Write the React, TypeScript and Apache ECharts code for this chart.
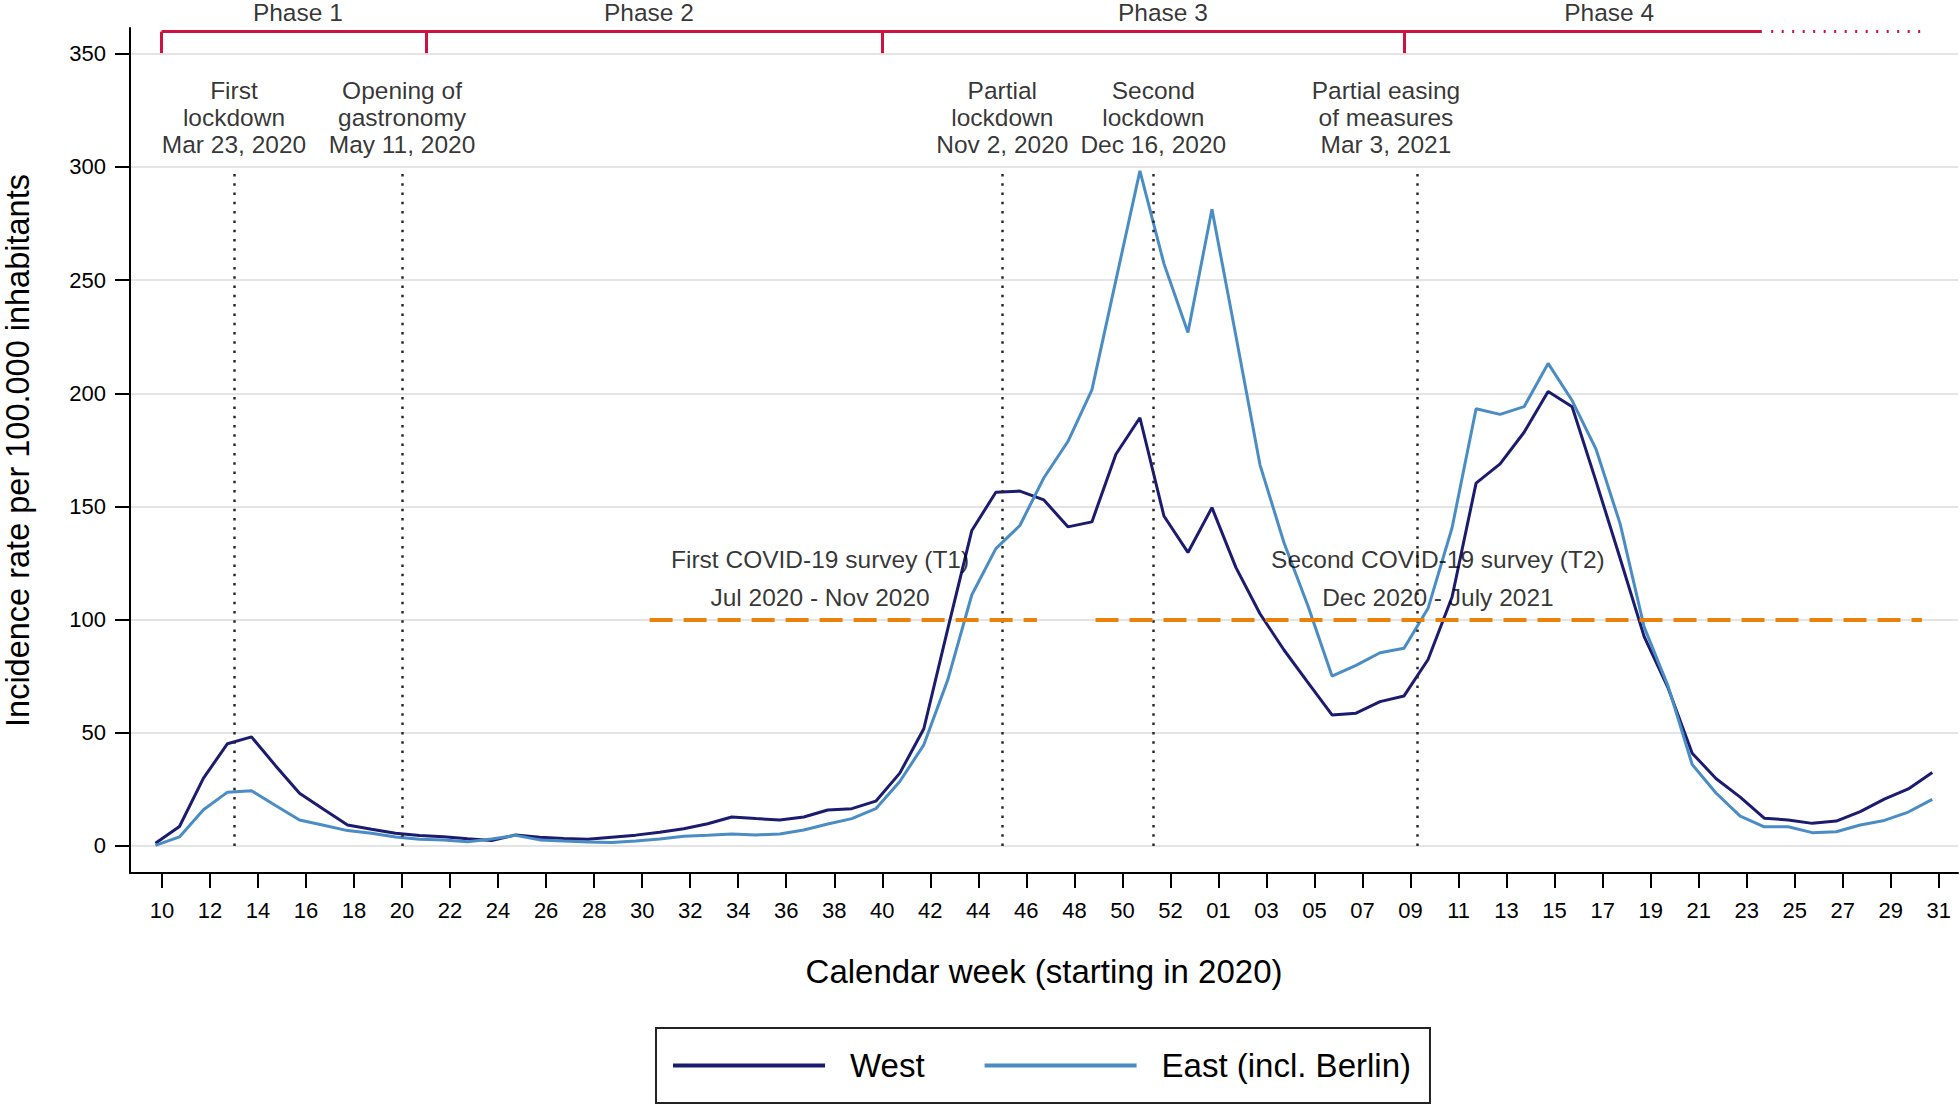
import React, { useEffect, useRef } from "react";
import * as echarts from "echarts";

// Calendar-week labels (2020 wk 10 .. 2020 wk 53, 2021 wk 01 .. wk 31)
const weekLabels: string[] = [
  "10", "11", "12", "13", "14", "15", "16", "17", "18", "19",
  "20", "21", "22", "23", "24", "25", "26", "27", "28", "29",
  "30", "31", "32", "33", "34", "35", "36", "37", "38", "39",
  "40", "41", "42", "43", "44", "45", "46", "47", "48", "49",
  "50", "51", "52", "53",
  "01", "02", "03", "04", "05", "06", "07", "08", "09", "10",
  "11", "12", "13", "14", "15", "16", "17", "18", "19", "20",
  "21", "22", "23", "24", "25", "26", "27", "28", "29", "30", "31",
];

// Incidence per 100.000 inhabitants, West
const westValues: number[] = [
  1.2, 8.6, 30, 45.2, 48.2, 35.5, 23.3, 16.2, 9.3, 7.4,
  5.6, 4.6, 4.1, 3.2, 2.4, 4.9, 3.9, 3.3, 3.0, 3.9,
  4.8, 6.1, 7.6, 9.8, 12.8, 12.1, 11.5, 12.8, 15.9, 16.5,
  19.8, 32.2, 51.8, 96, 139.4, 156.3, 156.8, 152.9, 141, 143.2,
  173.1, 189.2, 145.8, 129.7,
  149.5, 123, 102.6, 86.6, 72.2, 57.9, 58.7, 63.8, 66.3, 82.4,
  110, 160.3, 168.8, 182.8, 200.8, 194.1, 161, 127, 92.5, 69.7,
  41, 29.7, 21.6, 12.3, 11.5, 10, 11, 15.2, 20.7, 25.2, 32.5,
];

// Incidence per 100.000 inhabitants, East (incl. Berlin)
const eastValues: number[] = [
  0.3, 4.0, 16, 23.8, 24.4, 17.9, 11.5, 9.2, 6.8, 5.6,
  4.0, 3.0, 2.7, 1.9, 3.1, 4.7, 2.7, 2.2, 1.8, 1.5,
  2.2, 3.1, 4.3, 4.7, 5.3, 4.9, 5.3, 7.1, 9.7, 12.1,
  16.5, 28.5, 44.7, 73.5, 111, 131.4, 141.6, 162.7, 178.7, 201.5,
  250, 298.3, 257.3, 226.9,
  281.3, 225.2, 168.4, 134, 106, 75.1, 79.8, 85.4, 87.4, 105,
  140.6, 193.2, 190.7, 194.1, 213.2, 196.8, 175.2, 142.3, 96.7, 70.5,
  36, 23.3, 13.2, 8.5, 8.5, 5.9, 6.3, 9.3, 11.3, 15.0, 20.6,
];

const yTickValues: number[] = [0, 50, 100, 150, 200, 250, 300, 350];

// week ticks sit a little to the right of the weekly data points
const TICK_OFFSET = 0.27;

// events: week index (in weekLabels) + weekday offset (0 = Monday)
const events = [
  { text: "First\nlockdown\nMar 23, 2020", week: 3, day: 0, textShift: 0 },
  { text: "Opening of\ngastronomy\nMay 11, 2020", week: 10, day: 0, textShift: 0 },
  { text: "Partial\nlockdown\nNov 2, 2020", week: 35, day: 0, textShift: 0 },
  { text: "Second\nlockdown\nDec 16, 2020", week: 41, day: 2, textShift: 0 },
  { text: "Partial easing\nof measures\nMar 3, 2021", week: 52, day: 2, textShift: -1.31 },
];
const EVENT_LINE_TOP = 298.7;
const EVENT_TEXT_Y = 321.7;

// phases (x in data-index units)
const phaseBounds: number[] = [0.254, 11.28, 30.26, 52.02];
const phaseSolidEnd = 66.9;
const phaseDottedStart = 67.29;
const phaseDottedEnd = 73.57;
const PHASE_Y = 359.8;
const PHASE_TICK_Y = 350.3;
const phaseLabels = [
  { text: "Phase 1", x: 5.93 },
  { text: "Phase 2", x: 20.55 },
  { text: "Phase 3", x: 41.96 },
  { text: "Phase 4", x: 60.54 },
];
const PHASE_LABEL_Y = 368.4;

// surveys
const SURVEY_LEVEL = 100;
const surveys = [
  { title: "First COVID-19 survey (T1)", period: "Jul 2020 - Nov 2020", start: 20.58, end: 36.71, labelX: 27.68 },
  { title: "Second COVID-19 survey (T2)", period: "Dec 2020 - July 2021", start: 39.15, end: 73.57, labelX: 53.41 },
];
const SURVEY_TITLE_Y = 126.4;
const SURVEY_PERIOD_Y = 109.6;

const FONT = "'Liberation Sans', Arial, Helvetica, sans-serif";
const NAVY = "#1b1b6f";
const LIGHTBLUE = "#4a8cc4";
const ORANGE = "#e8820c";
const RED = "#cc1240";

export default function App() {
  const ref = useRef<HTMLDivElement | null>(null);

  useEffect(() => {
    if (!ref.current) return;
    const chart = echarts.init(ref.current, null, { renderer: "svg" });

    const xTickValues = weekLabels
      .map((_, i) => i)
      .filter((i) => i % 2 === 0)
      .map((i) => i + TICK_OFFSET);

    const westData = westValues.map((v, i) => [i, v]);
    const eastData = eastValues.map((v, i) => [i, v]);

    const markLines: any[] = [];
    // dotted event lines
    events.forEach((e) => {
      const x = e.week + TICK_OFFSET + e.day / 7;
      markLines.push([
        { coord: [x, 0], lineStyle: { color: "#2a2a2a", width: 2.5, type: [2.5, 6.8] } },
        { coord: [x, EVENT_LINE_TOP] },
      ]);
    });
    // survey lines
    surveys.forEach((s) => {
      markLines.push([
        { coord: [s.start, SURVEY_LEVEL], lineStyle: { color: ORANGE, width: 4, type: [23, 11] } },
        { coord: [s.end, SURVEY_LEVEL] },
      ]);
    });
    // phase bracket
    markLines.push([
      { coord: [phaseBounds[0], PHASE_Y], lineStyle: { color: RED, width: 3, type: "solid" } },
      { coord: [phaseSolidEnd, PHASE_Y] },
    ]);
    phaseBounds.forEach((b) => {
      markLines.push([
        { coord: [b, PHASE_TICK_Y], lineStyle: { color: RED, width: 3, type: "solid" } },
        { coord: [b, PHASE_Y] },
      ]);
    });
    markLines.push([
      { coord: [phaseDottedStart, PHASE_Y], lineStyle: { color: RED, width: 3, type: [2, 8.5] } },
      { coord: [phaseDottedEnd, PHASE_Y] },
    ]);

    const annotations: any[] = [];
    events.forEach((e) => {
      annotations.push({
        name: e.text,
        value: [e.week + TICK_OFFSET + e.day / 7 + e.textShift, EVENT_TEXT_Y],
      });
    });
    phaseLabels.forEach((p) => {
      annotations.push({ name: p.text, value: [p.x, PHASE_LABEL_Y], label: { lineHeight: 25 } });
    });
    surveys.forEach((s) => {
      annotations.push({ name: s.title, value: [s.labelX, SURVEY_TITLE_Y] });
      annotations.push({ name: s.period, value: [s.labelX, SURVEY_PERIOD_Y] });
    });

    const option: any = {
      animation: false,
      backgroundColor: "#ffffff",
      textStyle: { fontFamily: FONT },
      grid: { left: 130, right: 2, top: 28, bottom: 232, containLabel: false, outerBoundsMode: "none" },
      legend: {
        data: ["West", "East (incl. Berlin)"],
        left: 656,
        top: 1028,
        orient: "horizontal",
        selectedMode: false,
        icon: "rect",
        itemWidth: 152,
        itemHeight: 4,
        itemGap: 60,
        padding: [21, 19, 21, 17],
        borderColor: "#222",
        borderWidth: 2,
        textStyle: { fontSize: 33, color: "#000", fontFamily: FONT, padding: [0, 0, 0, 20] },
      },
      xAxis: {
        type: "value",
        min: -1.06,
        max: 75.07,
        name: "Calendar week (starting in 2020)",
        nameLocation: "middle",
        nameGap: 82,
        nameTextStyle: { fontSize: 33, color: "#000", fontFamily: FONT },
        axisLine: { show: true, onZero: false, lineStyle: { color: "#000", width: 2 } },
        axisTick: { show: true, length: 15, customValues: xTickValues, lineStyle: { color: "#000", width: 2 } },
        axisLabel: {
          show: true,
          customValues: xTickValues,
          margin: 26,
          fontSize: 22,
          color: "#000",
          fontFamily: FONT,
          formatter: (v: number) => weekLabels[Math.round(v - TICK_OFFSET)] ?? "",
        },
        splitLine: { show: false },
      },
      yAxis: {
        type: "value",
        min: -11.93,
        max: 361.4,
        name: "Incidence rate per 100.000 inhabitants",
        nameLocation: "middle",
        nameGap: 95,
        nameTextStyle: { fontSize: 32.5, lineHeight: 34, color: "#000", fontFamily: FONT },
        axisLine: { show: true, onZero: false, lineStyle: { color: "#000", width: 2 } },
        axisTick: { show: true, length: 15, customValues: yTickValues, lineStyle: { color: "#000", width: 2 } },
        axisLabel: { show: true, customValues: yTickValues, margin: 24, fontSize: 22, color: "#000", fontFamily: FONT },
        splitLine: { show: true, lineStyle: { color: "#e4e4e4", width: 2 } },
      },
      series: [
        {
          name: "marks",
          type: "line",
          data: [],
          silent: true,
          z: 1,
          markLine: {
            silent: true,
            symbol: ["none", "none"],
            animation: false,
            label: { show: false },
            data: markLines,
          },
        },
        {
          name: "West",
          type: "line",
          data: westData,
          symbol: "none",
          color: NAVY,
          lineStyle: { color: NAVY, width: 3 },
          z: 3,
        },
        {
          name: "East (incl. Berlin)",
          type: "line",
          data: eastData,
          symbol: "none",
          color: LIGHTBLUE,
          lineStyle: { color: LIGHTBLUE, width: 3 },
          z: 4,
        },
        {
          name: "annotations",
          type: "scatter",
          silent: true,
          clip: false,
          symbolSize: 1,
          itemStyle: { color: "rgba(0,0,0,0)" },
          z: 5,
          label: {
            show: true,
            position: "inside",
            formatter: "{b}",
            fontSize: 24.5,
            lineHeight: 27,
            color: "#000",
            fontFamily: FONT,
            align: "center",
            verticalAlign: "middle",
          },
          data: annotations,
        },
      ],
    };

    chart.setOption(option);
    return () => {
      chart.dispose();
    };
  }, []);

  return (
    <div
      ref={ref}
      style={{ position: "fixed", left: 0, top: 0, width: 1960, height: 1105, background: "#fff" }}
    />
  );
}
